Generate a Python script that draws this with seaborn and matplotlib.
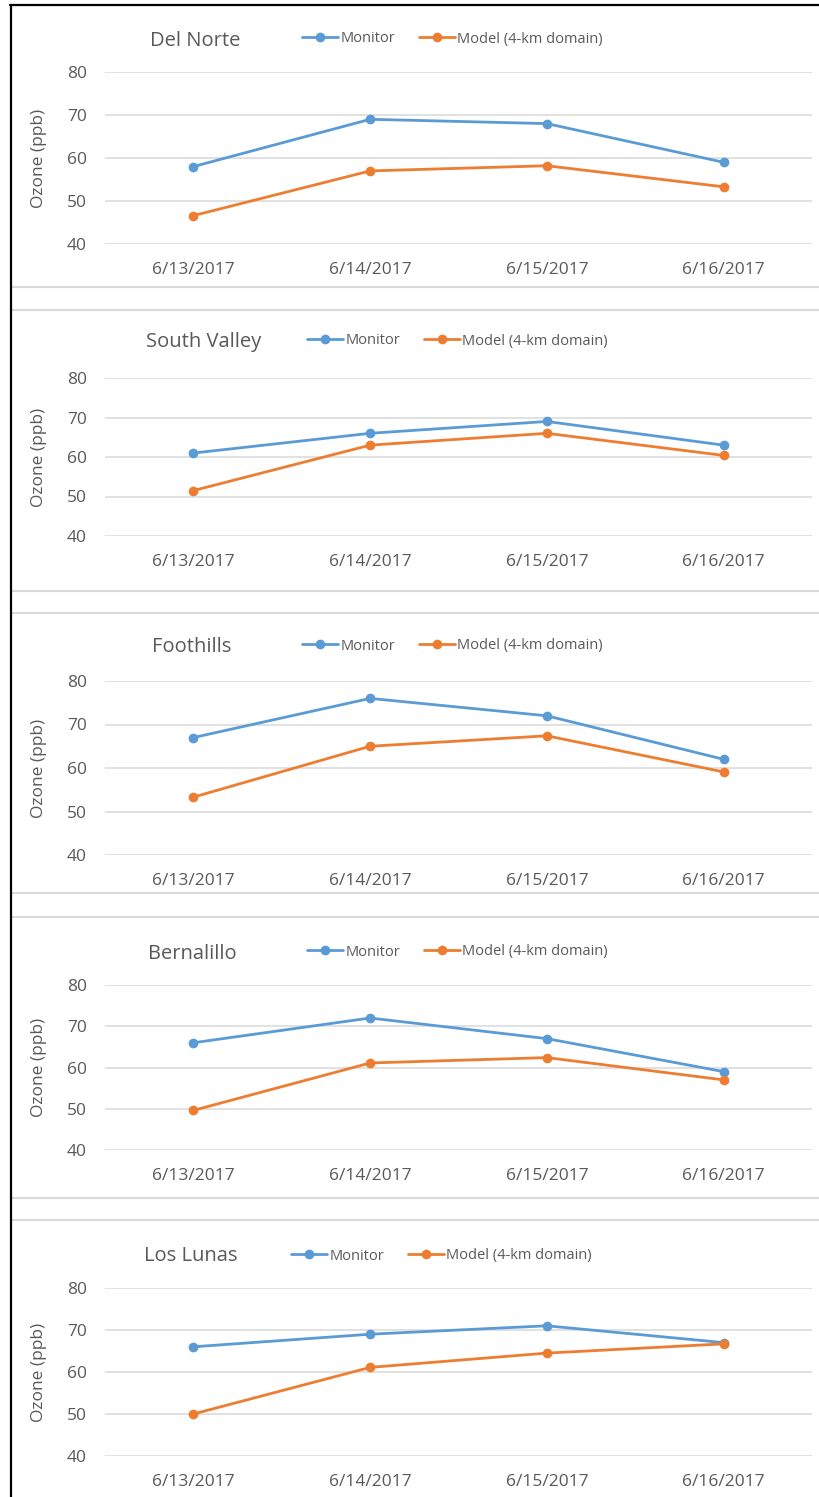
import matplotlib
matplotlib.use("Agg")
import matplotlib.pyplot as plt
import seaborn as sns
import pandas as pd
from matplotlib.lines import Line2D

# ---------------- data ----------------
dates = ["6/13/2017", "6/14/2017", "6/15/2017", "6/16/2017"]
sites = ["Del Norte", "South Valley", "Foothills", "Bernalillo", "Los Lunas"]
series_names = ["Monitor", "Model (4-km domain)"]

monitor_del_norte = [58, 69, 68, 59]
model_del_norte = [46.6, 57, 58.2, 53.3]
monitor_south_valley = [61, 66, 69, 63]
model_south_valley = [51.5, 63, 66, 60.4]
monitor_foothills = [67, 76, 72, 62]
model_foothills = [53.3, 65, 67.4, 59.1]
monitor_bernalillo = [66, 72, 67, 59]
model_bernalillo = [49.6, 61.1, 62.4, 57]
monitor_los_lunas = [66, 69, 71, 67]
model_los_lunas = [50, 61.1, 64.5, 66.7]

y_ticks = [40, 50, 60, 70, 80]
y_label = "Ozone (ppb)"

monitor_values = [monitor_del_norte, monitor_south_valley, monitor_foothills,
                  monitor_bernalillo, monitor_los_lunas]
model_values = [model_del_norte, model_south_valley, model_foothills,
                model_bernalillo, model_los_lunas]

# ---------------- style ----------------
sns.set_theme(style="white")
plt.rcParams["font.family"] = ["Open Sans", "DejaVu Sans"]

BLUE = "#5B9BD5"
ORANGE = "#ED7D31"
GRID = "#D9D9D9"
TEXT = "#595959"

W, H = 820, 1497
fig = plt.figure(figsize=(W / 100, H / 100), dpi=100)
fig.patch.set_facecolor("white")

# layout in pixels: (axes top, axes bottom, title x, title y, legend x, legend y)
layout = [
    (72, 244, 150, 41, 302, 39),
    (378, 536, 146, 342, 307, 341),
    (681, 855, 152, 647, 302, 646),
    (985, 1150, 148, 954, 307, 952),
    (1288, 1456, 144, 1256, 291, 1256),
]
AX_LEFT, AX_RIGHT = 105, 812

for site, mon, mod, (top, bot, tx, ty, lx, ly) in zip(sites, monitor_values, model_values, layout):
    ax = fig.add_axes([AX_LEFT / W, 1 - bot / H, (AX_RIGHT - AX_LEFT) / W, (bot - top) / H])
    df = pd.DataFrame({
        "date": dates * 2,
        "ozone": list(mon) + list(mod),
        "series": [series_names[0]] * len(dates) + [series_names[1]] * len(dates),
    })
    sns.lineplot(data=df, x="date", y="ozone", hue="series",
                 palette=[BLUE, ORANGE], hue_order=series_names,
                 marker="o", markersize=7, markeredgewidth=0,
                 linewidth=2.0, legend=False, ax=ax, sort=False)
    ax.set_xlim(-0.5, len(dates) - 0.5)
    ax.set_ylim(40, 80)
    ax.set_yticks(y_ticks)
    ax.set_xticks(range(len(dates)))
    ax.set_xticklabels(dates)
    ax.yaxis.grid(True, color=GRID, linewidth=1.1)
    ax.xaxis.grid(False)
    ax.set_axisbelow(True)
    for s in ax.spines.values():
        s.set_visible(False)
    ax.tick_params(axis="both", length=0, labelsize=12.5, labelcolor=TEXT)
    ax.tick_params(axis="y", pad=13)
    ax.tick_params(axis="x", pad=13)
    ax.set_xlabel("")
    ax.set_ylabel(y_label, fontsize=12.5, color=TEXT)
    ax.yaxis.set_label_coords((47 - AX_LEFT) / (AX_RIGHT - AX_LEFT), 0.5)
    ax.set_facecolor("none")

    fig.text(tx / W, 1 - ty / H, site, ha="left", va="center",
             fontsize=14.5, color=TEXT)
    handles = ax.get_lines()[:2]
    ax.legend(handles, series_names, loc="center left",
              bbox_to_anchor=(lx / W, 1 - ly / H), bbox_transform=fig.transFigure,
              ncol=2, frameon=False, fontsize=10.5, labelcolor=TEXT,
              handlelength=2.5, handletextpad=0.15, columnspacing=1.6,
              borderpad=0, borderaxespad=0)

# ---------------- frame decorations ----------------
seps = [287, 310, 591, 613, 893, 917, 1198, 1220]
for y in seps:
    fig.add_artist(Line2D([12 / W, 1.0], [1 - y / H, 1 - y / H],
                          transform=fig.transFigure, color=GRID, linewidth=1.5))
fig.add_artist(Line2D([10 / W, 1.0], [1 - 5 / H, 1 - 5 / H],
                      transform=fig.transFigure, color="black", linewidth=1.6))
fig.add_artist(Line2D([11 / W, 11 / W], [0, 1 - 5 / H],
                      transform=fig.transFigure, color="black", linewidth=1.6))

fig.savefig("out.png", dpi=100, facecolor="white")
